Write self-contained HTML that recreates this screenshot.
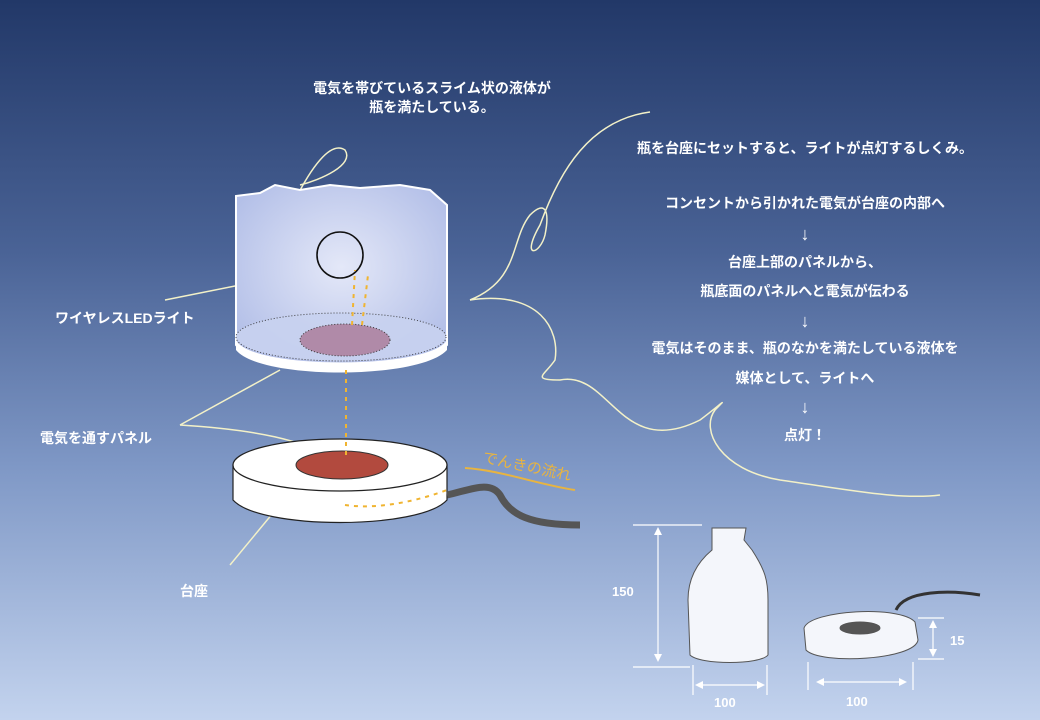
<!DOCTYPE html>
<html><head><meta charset="utf-8"><style>
html,body{margin:0;padding:0}
body{width:1040px;height:720px;overflow:hidden;background:linear-gradient(180deg,#223868 0%,#4a6396 35%,#7f98c6 65%,#c3d3ee 100%);font-family:"Liberation Sans","Noto Sans CJK JP",sans-serif}
svg{position:absolute;left:0;top:0}
text{font-family:"Liberation Sans","Noto Sans CJK JP",sans-serif;fill:#fff;font-weight:bold;font-size:14px}
</style></head><body>
<svg width="1040" height="720" viewBox="0 0 1040 720">
<defs>
<radialGradient id="liq" cx="50%" cy="45%" r="60%"><stop offset="0" stop-color="#e4e8f8"/><stop offset="1" stop-color="#b4c0e8"/></radialGradient>
</defs>
<g fill="none" stroke="#f3f1c8" stroke-width="1.5">
<path d="M295 200 C310 170 330 140 345 150 C355 165 320 180 300 185"/>
<path d="M470 300 C520 280 510 240 530 215 C545 200 550 210 545 235 C540 255 520 260 540 225 C560 170 590 120 650 112"/>
<path d="M470 300 C540 290 560 330 555 360 C545 375 530 380 560 380 C610 370 620 460 700 420 C720 405 730 395 715 410 C700 430 720 470 780 480 C850 490 900 500 940 495"/>
<path d="M165 300 L340 265"/>
<path d="M180 425 L280 370"/>
<path d="M180 425 C260 430 300 440 340 460"/>
<path d="M230 565 L292 490"/>
</g>
<path d="M233 465 L233 500 C260 530 420 530 447 500 L447 465 Z" fill="#fff" stroke="#222" stroke-width="1.2"/>
<ellipse cx="340" cy="465" rx="107" ry="26" fill="#fff" stroke="#222" stroke-width="1.2"/>
<ellipse cx="342" cy="465" rx="46" ry="14" fill="#b24a3e" stroke="#333"/>
<path d="M447 495 C470 490 490 480 500 495 C510 515 530 525 580 525" stroke="#555" stroke-width="7" fill="none"/>
<path d="M465 468 C500 470 540 485 575 490" stroke="#e8b440" stroke-width="2" fill="none"/>
<text x="482" y="462" style="fill:#e8b440;font-weight:normal;font-size:15px" transform="rotate(12 482 462)">でんきの流れ</text>
<path d="M236 196 L260 193 L275 185 L300 190 L330 185 L360 188 L400 185 L430 190 L447 205 L447 345 C420 375 260 375 236 345 Z" fill="url(#liq)" stroke="#fff" stroke-width="2"/>
<ellipse cx="341" cy="337" rx="105" ry="24" fill="#c8d2f0" stroke="#333" stroke-dasharray="1 2" opacity="0.9"/>
<path d="M236 340 C250 370 430 370 447 340 L447 350 C420 380 260 380 236 350Z" fill="#fff"/>
<ellipse cx="345" cy="340" rx="45" ry="16" fill="#b08aa8" stroke="#333" stroke-dasharray="1 2"/>
<circle cx="340" cy="255" r="23" fill="none" stroke="#111" stroke-width="1.6"/>
<g stroke="#f0b430" stroke-width="2" stroke-dasharray="4 5" fill="none">
<path d="M346 455 L346 365"/><path d="M352 325 L355 270"/><path d="M362 325 L368 275"/>
<path d="M345 505 C380 510 420 500 447 490"/>
</g>
<text x="432" y="93" text-anchor="middle">電気を帯びているスライム状の液体が</text>
<text x="432" y="112" text-anchor="middle">瓶を満たしている。</text>
<text x="55" y="323">ワイヤレスLEDライト</text>
<text x="40" y="443">電気を通すパネル</text>
<text x="180" y="596">台座</text>
<g text-anchor="middle">
<text x="805" y="153">瓶を台座にセットすると、ライトが点灯するしくみ。</text>
<text x="805" y="208">コンセントから引かれた電気が台座の内部へ</text>
<text x="805" y="240" style="font-size:18px">↓</text>
<text x="805" y="267">台座上部のパネルから、</text>
<text x="805" y="296">瓶底面のパネルへと電気が伝わる</text>
<text x="805" y="327" style="font-size:18px">↓</text>
<text x="805" y="353">電気はそのまま、瓶のなかを満たしている液体を</text>
<text x="805" y="383">媒体として、ライトへ</text>
<text x="805" y="413" style="font-size:18px">↓</text>
<text x="805" y="440">点灯！</text>
</g>
<g fill="#f4f6fb" stroke="#555" stroke-width="1">
<path d="M712 528 L746 528 L744 540 L752 550 C765 570 768 580 768 600 L768 655 C760 665 700 665 690 655 L688 600 C688 575 700 560 712 550 Z"/>
<path d="M804 628 C810 610 900 605 915 622 L918 640 C915 660 820 665 806 650 Z"/>
<ellipse cx="860" cy="628" rx="20" ry="6" fill="#555"/>
</g>
<path d="M896 610 C905 590 950 590 980 595" stroke="#333" stroke-width="3" fill="none"/>
<g stroke="#fff" stroke-width="1.2" fill="none">
<path d="M633 525 L702 525 M633 667 L690 667 M658 530 L658 660"/>
<path d="M693 665 L693 695 M767 665 L767 695 M697 685 L763 685"/>
<path d="M808 662 L808 690 M913 662 L913 690 M818 682 L905 682"/>
<path d="M918 618 L944 618 M918 659 L944 659 M933 622 L933 655"/>
</g>
<g fill="#fff">
<path d="M658 527 l-4 8 h8z M658 662 l-4 -8 h8z"/>
<path d="M695 685 l8 -4 v8z M765 685 l-8 -4 v8z"/>
<path d="M816 682 l8 -4 v8z M907 682 l-8 -4 v8z"/>
<path d="M933 620 l-4 8 h8z M933 657 l-4 -8 h8z"/>
</g>
<text x="612" y="596" style="font-size:13px">150</text>
<text x="714" y="707" style="font-size:13px">100</text>
<text x="846" y="706" style="font-size:13px">100</text>
<text x="950" y="645" style="font-size:13px">15</text>
</svg>
</body></html>
